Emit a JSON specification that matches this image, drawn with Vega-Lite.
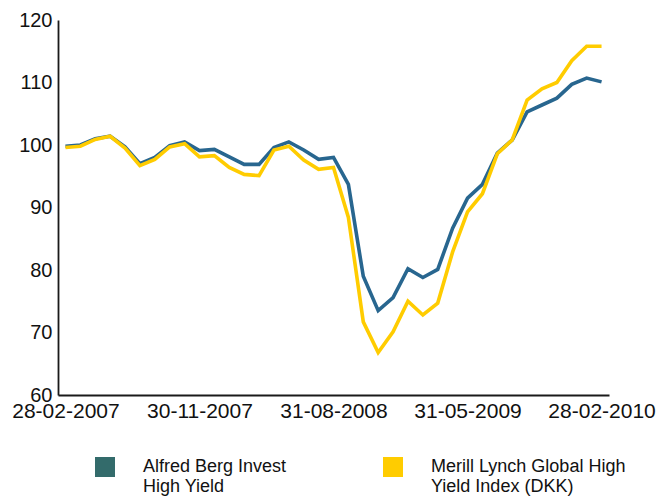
{
  "$schema": "https://vega.github.io/schema/vega-lite/v6.json",
  "autosize": {"type": "none"},
  "padding": {"left": 58, "top": 20, "right": 47, "bottom": 104},
  "width": 551,
  "height": 375,
  "background": "white",
  "config": {
    "view": {"stroke": null},
    "font": "Liberation Sans"
  },
  "data": {
    "values": [
      {"date": "28-02-2007", "Alfred Berg Invest High Yield": 99.8, "Merill Lynch Global High Yield Index (DKK)": 99.6},
      {"date": "31-03-2007", "Alfred Berg Invest High Yield": 100.0, "Merill Lynch Global High Yield Index (DKK)": 99.8},
      {"date": "30-04-2007", "Alfred Berg Invest High Yield": 101.0, "Merill Lynch Global High Yield Index (DKK)": 100.9},
      {"date": "31-05-2007", "Alfred Berg Invest High Yield": 101.4, "Merill Lynch Global High Yield Index (DKK)": 101.4},
      {"date": "30-06-2007", "Alfred Berg Invest High Yield": 99.7, "Merill Lynch Global High Yield Index (DKK)": 99.5},
      {"date": "31-07-2007", "Alfred Berg Invest High Yield": 97.0, "Merill Lynch Global High Yield Index (DKK)": 96.7},
      {"date": "31-08-2007", "Alfred Berg Invest High Yield": 98.0, "Merill Lynch Global High Yield Index (DKK)": 97.7},
      {"date": "30-09-2007", "Alfred Berg Invest High Yield": 99.9, "Merill Lynch Global High Yield Index (DKK)": 99.7},
      {"date": "31-10-2007", "Alfred Berg Invest High Yield": 100.5, "Merill Lynch Global High Yield Index (DKK)": 100.2},
      {"date": "30-11-2007", "Alfred Berg Invest High Yield": 99.1, "Merill Lynch Global High Yield Index (DKK)": 98.1},
      {"date": "31-12-2007", "Alfred Berg Invest High Yield": 99.3, "Merill Lynch Global High Yield Index (DKK)": 98.3},
      {"date": "31-01-2008", "Alfred Berg Invest High Yield": 98.1, "Merill Lynch Global High Yield Index (DKK)": 96.4},
      {"date": "29-02-2008", "Alfred Berg Invest High Yield": 96.9, "Merill Lynch Global High Yield Index (DKK)": 95.3},
      {"date": "31-03-2008", "Alfred Berg Invest High Yield": 96.9, "Merill Lynch Global High Yield Index (DKK)": 95.1},
      {"date": "30-04-2008", "Alfred Berg Invest High Yield": 99.6, "Merill Lynch Global High Yield Index (DKK)": 99.2},
      {"date": "31-05-2008", "Alfred Berg Invest High Yield": 100.5, "Merill Lynch Global High Yield Index (DKK)": 99.8},
      {"date": "30-06-2008", "Alfred Berg Invest High Yield": 99.2, "Merill Lynch Global High Yield Index (DKK)": 97.6},
      {"date": "31-07-2008", "Alfred Berg Invest High Yield": 97.7, "Merill Lynch Global High Yield Index (DKK)": 96.1},
      {"date": "31-08-2008", "Alfred Berg Invest High Yield": 98.0, "Merill Lynch Global High Yield Index (DKK)": 96.4},
      {"date": "30-09-2008", "Alfred Berg Invest High Yield": 93.7, "Merill Lynch Global High Yield Index (DKK)": 88.4},
      {"date": "31-10-2008", "Alfred Berg Invest High Yield": 79.0, "Merill Lynch Global High Yield Index (DKK)": 71.7},
      {"date": "30-11-2008", "Alfred Berg Invest High Yield": 73.5, "Merill Lynch Global High Yield Index (DKK)": 66.8},
      {"date": "31-12-2008", "Alfred Berg Invest High Yield": 75.6, "Merill Lynch Global High Yield Index (DKK)": 70.1},
      {"date": "31-01-2009", "Alfred Berg Invest High Yield": 80.2, "Merill Lynch Global High Yield Index (DKK)": 75.0},
      {"date": "28-02-2009", "Alfred Berg Invest High Yield": 78.8, "Merill Lynch Global High Yield Index (DKK)": 72.8},
      {"date": "31-03-2009", "Alfred Berg Invest High Yield": 80.1, "Merill Lynch Global High Yield Index (DKK)": 74.7},
      {"date": "30-04-2009", "Alfred Berg Invest High Yield": 86.7, "Merill Lynch Global High Yield Index (DKK)": 82.9},
      {"date": "31-05-2009", "Alfred Berg Invest High Yield": 91.5, "Merill Lynch Global High Yield Index (DKK)": 89.3},
      {"date": "30-06-2009", "Alfred Berg Invest High Yield": 93.7, "Merill Lynch Global High Yield Index (DKK)": 92.2},
      {"date": "31-07-2009", "Alfred Berg Invest High Yield": 98.7, "Merill Lynch Global High Yield Index (DKK)": 98.6},
      {"date": "31-08-2009", "Alfred Berg Invest High Yield": 100.8, "Merill Lynch Global High Yield Index (DKK)": 100.8},
      {"date": "30-09-2009", "Alfred Berg Invest High Yield": 105.3, "Merill Lynch Global High Yield Index (DKK)": 107.2},
      {"date": "31-10-2009", "Alfred Berg Invest High Yield": 106.4, "Merill Lynch Global High Yield Index (DKK)": 109.0},
      {"date": "30-11-2009", "Alfred Berg Invest High Yield": 107.5, "Merill Lynch Global High Yield Index (DKK)": 110.0},
      {"date": "31-12-2009", "Alfred Berg Invest High Yield": 109.7, "Merill Lynch Global High Yield Index (DKK)": 113.5},
      {"date": "31-01-2010", "Alfred Berg Invest High Yield": 110.7, "Merill Lynch Global High Yield Index (DKK)": 115.8},
      {"date": "28-02-2010", "Alfred Berg Invest High Yield": 110.1, "Merill Lynch Global High Yield Index (DKK)": 115.8}
    ]
  },
  "transform": [
    {"fold": ["Alfred Berg Invest High Yield", "Merill Lynch Global High Yield Index (DKK)"], "as": ["series", "value"]}
  ],
  "mark": {"type": "line", "strokeWidth": 3.6, "strokeJoin": "miter", "strokeCap": "butt"},
  "encoding": {
    "x": {
      "field": "date",
      "type": "ordinal",
      "sort": null,
      "scale": {"type": "point", "padding": 0.5},
      "axis": {
        "title": null,
        "values": ["28-02-2007", "30-11-2007", "31-08-2008", "31-05-2009", "28-02-2010"],
        "labelAngle": 0,
        "ticks": false,
        "grid": false,
        "domainColor": "#1a1a1a",
        "domainWidth": 1.8,
        "labelFontSize": 21,
        "labelColor": "#111111",
        "labelPadding": 5,
        "labelFont": "Liberation Sans"
      }
    },
    "y": {
      "field": "value",
      "type": "quantitative",
      "scale": {"domain": [60, 120], "nice": false, "zero": false},
      "axis": {
        "title": null,
        "values": [60, 70, 80, 90, 100, 110, 120],
        "ticks": false,
        "grid": false,
        "domainColor": "#1a1a1a",
        "domainWidth": 1.8,
        "labelFontSize": 20,
        "labelColor": "#111111",
        "labelPadding": 6,
        "labelFont": "Liberation Sans"
      }
    },
    "color": {
      "field": "series",
      "type": "nominal",
      "scale": {"range": ["#28668f", "#ffcc00"]},
      "legend": {
        "title": null,
        "orient": "none",
        "legendX": 37,
        "legendY": 437,
        "direction": "horizontal",
        "columns": 2,
        "columnPadding": 96,
        "padding": 0,
        "symbolType": "square",
        "symbolSize": 400,
        "symbolStrokeWidth": 0,
        "labelOffset": 28,
        "labelFontSize": 18,
        "labelColor": "#111111",
        "labelFont": "Liberation Sans",
        "labelLimit": 400,
        "labelBaseline": "middle",
        "labelExpr": "datum.value == 'Alfred Berg Invest High Yield' ? ['Alfred Berg Invest', 'High Yield'] : ['Merill Lynch Global High', 'Yield Index (DKK)']",
        "encode": {
          "symbols": {
            "update": {
              "fill": {"signal": "datum.value == 'Alfred Berg Invest High Yield' ? '#336b6b' : '#ffcc00'"},
              "opacity": {"value": 1}
            }
          }
        }
      }
    }
  }
}
